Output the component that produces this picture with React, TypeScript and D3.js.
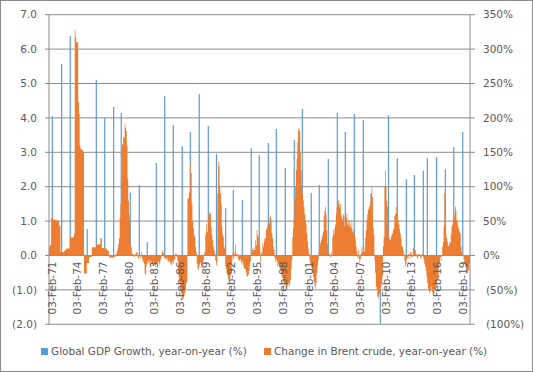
import React from "react";
import * as d3 from "d3";

const W = 533;
const H = 372;
const plot = { left: 49, right: 470, top: 14.7, bottom: 324.3 };

// Global GDP growth, year-on-year (%) — spike dates and values
const gdpDates = [
  "1971-02-20", "1972-03-24", "1973-03-26", "1974-03-15", "1975-03-20", "1976-04-10",
  "1977-04-03", "1978-04-20", "1979-03-10", "1980-03-28", "1981-04-18", "1982-03-24",
  "1983-04-12", "1984-04-06", "1985-04-06", "1986-04-24", "1987-04-01", "1988-04-18",
  "1989-05-09", "1990-04-24", "1991-05-21", "1992-04-09", "1993-04-28", "1994-05-15",
  "1995-04-21", "1996-05-12", "1997-04-18", "1998-05-06", "1999-05-24", "2000-05-01",
  "2001-05-18", "2002-04-24", "2003-05-15", "2004-06-03", "2005-05-09", "2006-05-27",
  "2007-06-15", "2008-05-15", "2009-06-09", "2010-05-25", "2011-06-06", "2012-06-24",
  "2013-06-01", "2014-06-18", "2014-12-07", "2016-01-04", "2017-01-13", "2018-01-07",
  "2019-01-25",
];
const gdpGrowth = [
  4.05, 5.57, 6.38, 1.9, 0.77, 5.1,
  4.0, 4.32, 4.14, 1.83, 2.05, 0.39,
  2.69, 4.64, 3.79, 3.18, 3.59, 4.69,
  3.76, 2.95, 1.38, 1.9, 1.61, 3.12,
  2.92, 3.27, 3.68, 2.54, 3.36, 4.26,
  1.82, 2.05, 2.81, 4.14, 3.59, 4.11,
  3.94, 1.8, -1.98, 4.08, 2.83, 2.22,
  2.34, 2.46, 2.83, 2.86, 2.51, 3.15,
  3.59,
];

// Change in Brent crude, year-on-year (%) — monthly from Oct 1970
const brentStartMonth = "1970-10";
const brentYoY = [
  12, 15, 15,
  55, 55, 54, 52, 52, 52, 52, 51, 51, 51, 50, 43,
  43, 5, 5, 5, 5, 5, 6, 8, 8, 10, 10, 10,
  10, 10, 26, 26, 26, 26, 26, 27, 32, 328, 318, 310,
  310, 310, 223, 206, 160, 155, 155, 153, 153, 150, -26, -26,
  -26, -26, -11, -11, -11, -3, -2, -2, -2, 12, 12, 12,
  12, 12, 12, 16, 16, 16, 16, 16, 17, 25, 25, 11,
  11, 11, 11, 10, 10, 10, 8, 7, 7, -3, -3, -3,
  -3, -4, -3, -2, -2, -2, -1, 3, 6, 10, 17, 25,
  55, 75, 110, 160, 162, 172, 172, 192, 186, 181, 160, 111,
  80, 60, 51, 14, 12, 3, 2, 0, -2, 1, 3, 5,
  4, -3, -5, 2, -2, -2, 5, -4, -7, -10, -12, -26,
  -28, -16, -12, -8, -10, -6, -14, -10, -8, -12, -14, -9,
  -12, -14, -16, -10, -12, -11, -9, -13, -10, -6, -2, 5,
  8, 4, -3, -5, -4, -6, -3, -8, -9, -7, -10, -12,
  -14, -10, -8, -12, -6, -5, 3, 2, -3, -8, -28, -35,
  -40, -45, -55, -60, -64, -62, -58, -55, -50, -40, -38, 83,
  83, 90, 93, 134, 120, 76, 50, 40, 30, 27, 13, 5,
  -12, -18, -21, -16, -12, -10, -16, -19, -12, -7, 2, 5,
  30, 46, 35, 33, 55, 63, 60, 62, 42, 30, 22, 13,
  8, 3, -7, -14, -10, 90, 136, 130, 100, 90, 76, 42,
  30, 27, 13, 10, -16, -20, -26, -30, -35, -40, -36, -28,
  -25, -10, 3, -5, -2, 5, 16, 2, -3, 3, -6, -8,
  -6, -5, -10, -12, -8, -14, -18, -20, -20, -25, -30, -31,
  -28, -22, -15, -8, 0, 5, 10, 8, 12, 8, 22, 15,
  37, 30, 27, 17, 12, -10, 5, 3, 17, 12, 20, 25,
  25, 37, 40, 44, 42, 46, 55, 58, 52, 32, 25, 13,
  8, -3, -10, -5, -8, -16, -12, -15, -18, -20, -25, -31,
  -33, -38, -40, -44, -42, -48, -46, -44, -40, -45, -42, -35,
  -20, -7, 27, 40, 52, 83, 100, 124, 140, 165, 183, 185,
  180, 150, 124, 100, 90, 80, 71, 60, 52, 45, 32, 20,
  10, 3, -7, -12, -15, -21, -25, -31, -38, -44, -48, -40,
  -25, -15, -7, 5, 13, 18, 22, 27, 30, 35, 57, 65,
  71, 60, 37, 17, 5, 0, 3, -2, 5, 0, 27, 37,
  30, 40, 45, 61, 70, 65, 80, 75, 70, 75, 60, 55,
  52, 60, 58, 42, 48, 55, 61, 45, 50, 42, 52, 45,
  40, 52, 35, 38, 32, 30, 25, 13, 5, -3, 8, -5,
  -10, -5, 3, 13, 5, 8, 13, 5, 25, 37, 52, 60,
  66, 70, 72, 78, 90, 100, 85, 40, 30, -7, -25, -45,
  -50, -60, -62, -58, -55, -52, -45, -40, -30, 13, 27, 100,
  124, 100, 80, 71, 37, 22, 25, 22, 27, 30, 32, 37,
  40, 57, 60, 71, 62, 55, 52, 45, 38, 32, 25, 13,
  13, 8, 3, -7, -16, -12, -5, -3, 2, -5, 3, 5,
  -4, 5, -2, 10, 13, 5, 8, 3, -2, -5, 2, 0,
  2, -3, -5, 0, 3, -2, -7, -12, -16, -22, -31, -40,
  -48, -50, -55, -52, -45, -50, -53, -55, -54, -50, -45, -40,
  -45, -36, -30, -16, -10, -2, -8, 0, 13, 20, 42, 90,
  100, 32, 25, 20, 13, 15, 20, 18, 30, 42, 45, 52,
  55, 60, 71, 65, 52, 48, 42, 38, 35, 32, 13, 5,
  3, 0, -5, -12, -15, -18, -20, -26, -22, -20, -12,
];

const tickYears = [1971, 1974, 1977, 1980, 1983, 1986, 1989, 1992, 1995, 1998, 2001, 2004, 2007, 2010, 2013, 2016, 2019];
const leftTicks = [-2, -1, 0, 1, 2, 3, 4, 5, 6, 7];
const rightTicks = [-100, -50, 0, 50, 100, 150, 200, 250, 300, 350];

const legendItems = [
  { label: "Global GDP Growth, year-on-year (%)", color: "#5B9BD5" },
  { label: "Change in Brent crude, year-on-year (%)", color: "#ED7D31" },
];

const FONT = "'DejaVu Sans', Verdana, sans-serif";
const TEXT = "#595959";
const GRID = "#8a8a8a";

export default function App() {
  const parseDay = d3.timeParse("%Y-%m-%d");
  const parseMonth = d3.timeParse("%Y-%m");
  const start = parseMonth(brentStartMonth) as Date;
  const end = d3.timeMonth.offset(start, brentYoY.length);

  const x = d3.scaleTime().domain([start, end]).range([plot.left, plot.right]);
  const yL = d3.scaleLinear().domain([-2, 7]).range([plot.bottom, plot.top]);
  const yR = d3.scaleLinear().domain([-100, 350]).range([plot.bottom, plot.top]);

  const brentPts = brentYoY.map((v, i) => ({ d: d3.timeMonth.offset(start, i), v }));
  brentPts.push({ d: end, v: brentYoY[brentYoY.length - 1] });
  const area = d3
    .area<{ d: Date; v: number }>()
    .x((p) => x(p.d))
    .y0(yR(0))
    .y1((p) => yR(p.v))
    .curve(d3.curveStepAfter);

  const fmtL = (v: number) => (v < 0 ? `(${d3.format(".1f")(-v)})` : d3.format(".1f")(v));
  const fmtR = (v: number) => (v < 0 ? `(${-v}%)` : `${v}%`);
  const fmtDate = d3.timeFormat("%d-%b-%y");

  return (
    <svg
      width={W}
      height={H}
      style={{ position: "fixed", left: 0, top: 0, background: "#fff" }}
      fontFamily={FONT}
    >
      <rect x={0.5} y={0.5} width={W - 1} height={H - 1} fill="#fff" stroke={GRID} />
      {/* gridlines */}
      {leftTicks.map((t) => (
        <line key={"g" + t} x1={plot.left - 4} x2={plot.right + 5} y1={yL(t)} y2={yL(t)} stroke={GRID} strokeWidth={1} />
      ))}
      <line x1={plot.left} x2={plot.left} y1={plot.top} y2={plot.bottom} stroke={GRID} />
      <line x1={plot.right} x2={plot.right} y1={plot.top} y2={plot.bottom} stroke={GRID} />
      {/* GDP spikes */}
      {gdpDates.map((ds, i) => {
        const xx = x(parseDay(ds) as Date);
        const v = gdpGrowth[i];
        return (
          <rect
            key={"b" + i}
            x={xx - 0.6}
            width={1.2}
            y={Math.min(yL(v), yL(0))}
            height={Math.abs(yL(v) - yL(0))}
            fill="#5B9BD5"
          />
        );
      })}
      {/* Brent area */}
      <path d={area(brentPts) || ""} fill="#ED7D31" />
      {/* left axis labels */}
      {leftTicks.map((t) => (
        <text key={"l" + t} x={37} y={yL(t)} dy="0.35em" textAnchor="end" fontSize={10.5} fill={TEXT}>
          {fmtL(t)}
        </text>
      ))}
      {/* right axis labels */}
      {rightTicks.map((t) => (
        <text key={"r" + t} x={t < 0 ? 486 : 483} y={yR(t)} dy="0.35em" textAnchor="start" fontSize={10.5} fill={TEXT}>
          {fmtR(t)}
        </text>
      ))}
      {/* x labels */}
      {tickYears.map((yr) => {
        const d = new Date(yr, 1, 3);
        return (
          <text
            key={"x" + yr}
            transform={`translate(${x(d)},${yL(0) + 6}) rotate(-90)`}
            dy="0.35em"
            textAnchor="end"
            fontSize={10.5}
            fill={TEXT}
          >
            {fmtDate(d)}
          </text>
        );
      })}
      {/* legend */}
      {legendItems.map((it, i) => {
        const lx = i === 0 ? 41 : 264;
        return (
          <g key={"lg" + i}>
            <rect x={lx} y={348} width={7} height={7} fill={it.color} />
            <text x={lx + 10} y={351.5} dy="0.35em" fontSize={10.5} fill={TEXT}>
              {it.label}
            </text>
          </g>
        );
      })}
    </svg>
  );
}
